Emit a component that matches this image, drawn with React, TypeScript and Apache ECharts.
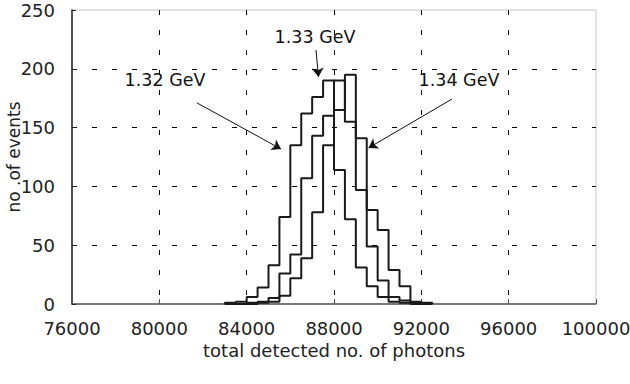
import React, { useEffect, useRef } from 'react';
import * as echarts from 'echarts';

// Histogram bins (lower edge = BIN_START + i * BIN_WIDTH)
const BIN_START = 83000;
const BIN_WIDTH = 500;
const counts132 = [1, 2, 6, 14, 33, 74, 135, 162, 176, 190, 114, 72, 31, 15, 6, 2, 1, 0, 0];
const counts133 = [0, 0, 1, 2, 5, 26, 42, 107, 143, 160, 190, 155, 97, 49, 20, 6, 3, 1, 0];
const counts134 = [0, 0, 0, 1, 2, 7, 22, 39, 78, 135, 165, 195, 141, 80, 63, 29, 15, 2, 1];

// Annotation texts and arrows (data coordinates)
const labelNames = ['1.32 GeV', '1.33 GeV', '1.34 GeV'];
const labelPos = [
  [80260, 190.5],
  [87130, 227],
  [93725, 190.5],
];
const arrowFrom = [
  [81725, 171],
  [87175, 216],
  [93405, 174.3],
];
const arrowTo = [
  [85573, 131.8],
  [87290, 193],
  [89580, 132.7],
];

const X_MIN = 76000;
const X_MAX = 100000;
const X_STEP = 4000;
const Y_MIN = 0;
const Y_MAX = 250;
const Y_STEP = 50;

const FONT = "'DejaVu Sans', 'Liberation Sans', sans-serif";

function toSteps(counts: number[]): number[][] {
  const pts: number[][] = [[BIN_START, 0]];
  counts.forEach((c, i) => pts.push([BIN_START + i * BIN_WIDTH, c]));
  pts.push([BIN_START + counts.length * BIN_WIDTH, 0]);
  return pts;
}

export default function App() {
  const ref = useRef<HTMLDivElement>(null);
  useEffect(() => {
    if (!ref.current) return;
    const chart = echarts.init(ref.current, undefined, { renderer: 'svg' });
    const histStyle = { color: '#1a1a1a', width: 2 };
    const gridLine = { color: '#000', width: 1, type: [5, 15] as any };
    chart.setOption({
      animation: false,
      backgroundColor: '#fff',
      textStyle: { fontFamily: FONT },
      grid: {
        left: 72,
        right: 34,
        top: 10,
        bottom: 80,
        show: true,
        borderColor: '#c8c8c8',
        borderWidth: 1,
        containLabel: false,
        outerBoundsMode: 'none',
      },
      xAxis: {
        type: 'value',
        min: X_MIN,
        max: X_MAX,
        interval: X_STEP,
        name: 'total detected no. of photons',
        nameLocation: 'middle',
        nameGap: 37,
        nameMoveOverlap: false,
        nameTextStyle: { fontSize: 18, color: '#222', fontFamily: FONT },
        axisLine: { show: true, onZero: false, lineStyle: { color: '#555', width: 1.5 } },
        axisTick: { show: true, inside: true, length: 5, lineStyle: { color: '#555' } },
        axisLabel: {
          fontSize: 18,
          color: '#222',
          margin: 15,
          fontFamily: FONT,
          formatter: (v: number) => String(v),
        },
        splitLine: { show: true, showMinLine: false, showMaxLine: false, lineStyle: gridLine },
      },
      yAxis: {
        type: 'value',
        min: Y_MIN,
        max: Y_MAX,
        interval: Y_STEP,
        name: 'no .of events',
        nameLocation: 'middle',
        nameGap: 50,
        nameMoveOverlap: false,
        nameTextStyle: { fontSize: 17, color: '#222', fontFamily: FONT },
        axisLine: { show: true, lineStyle: { color: '#222', width: 1.5 } },
        axisTick: { show: true, inside: true, length: 4, lineStyle: { color: '#222' } },
        axisLabel: { fontSize: 18, color: '#222', margin: 17, fontFamily: FONT },
        splitLine: { show: true, showMinLine: false, showMaxLine: false, lineStyle: gridLine },
      },
      series: [
        {
          type: 'line',
          step: 'end',
          data: toSteps(counts132),
          showSymbol: false,
          lineStyle: histStyle,
          silent: true,
        },
        {
          type: 'line',
          step: 'end',
          data: toSteps(counts133),
          showSymbol: false,
          lineStyle: histStyle,
          silent: true,
        },
        {
          type: 'line',
          step: 'end',
          data: toSteps(counts134),
          showSymbol: false,
          lineStyle: histStyle,
          silent: true,
        },
        {
          type: 'scatter',
          symbolSize: 0,
          silent: true,
          itemStyle: { opacity: 1, color: '#111' },
          data: labelNames.map((n, i) => ({ name: n, value: labelPos[i] })),
          label: {
            show: true,
            position: 'inside',
            formatter: '{b}',
            fontSize: 17.5,
            color: '#111',
            opacity: 1,
            fontFamily: FONT,
          },
          markLine: {
            silent: true,
            symbol: ['none', 'arrow'],
            symbolSize: 9,
            label: { show: false },
            itemStyle: { color: '#111' },
            lineStyle: { color: '#111', width: 1, type: 'solid', opacity: 1 },
            emphasis: { disabled: true },
            data: arrowFrom.map((f, i) => [
              { coord: f, symbol: 'none' },
              { coord: arrowTo[i], symbol: 'arrow', symbolSize: 9 },
            ]),
          },
        },
      ],
    });
    return () => chart.dispose();
  }, []);
  return (
    <div
      ref={ref}
      style={{ position: 'fixed', left: 0, top: 0, width: 630, height: 384, background: '#fff' }}
    />
  );
}
